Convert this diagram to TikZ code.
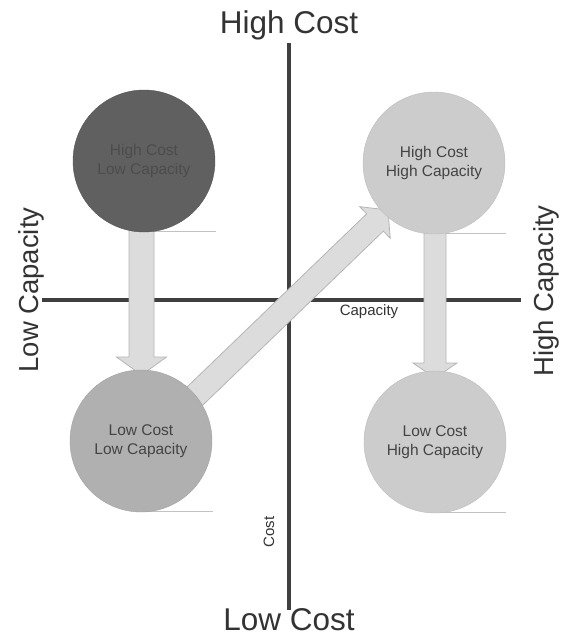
\documentclass[tikz,border=0pt]{standalone}
\usepackage{fontspec}
\setmainfont{Liberation Sans}
\usetikzlibrary{calc}

\definecolor{axisgray}{HTML}{3F3F3F}
\definecolor{labelgray}{HTML}{333333}
\definecolor{darkfill}{HTML}{606060}
\definecolor{darktext}{HTML}{4C4C4C}
\definecolor{midfill}{HTML}{B0B0B0}
\definecolor{lightfill}{HTML}{CCCCCC}
\definecolor{innertext}{HTML}{444444}
\definecolor{arrowfill}{HTML}{DCDCDC}
\definecolor{arrowline}{HTML}{B5B5B5}
\definecolor{baseline}{HTML}{C2C2C2}

\tikzset{
  axis/.style={line width=4pt, draw=axisgray},
  bigtext/.style={text=labelgray, font=\fontsize{31.5}{36}\selectfont, inner sep=0pt},
  sidetext/.style={text=labelgray, font=\fontsize{27.5}{32}\selectfont, inner sep=0pt},
  smalltext/.style={text=labelgray, font=\fontsize{15}{18}\selectfont, inner sep=0pt},
  bubble/.style={circle, minimum size=142pt, inner sep=0pt, align=center,
                 font=\fontsize{15.5}{19}\selectfont},
  blockarrow/.style={fill=arrowfill, draw=arrowline, line width=0.8pt, line join=miter},
  tangent/.style={draw=baseline, line width=1pt},
}

\begin{document}
\begin{tikzpicture}[x=1pt,y=-1pt]
  \useasboundingbox (0,0) rectangle (560,640);

  % axes
  \coordinate (ytop) at (289,43);
  \coordinate (ybot) at (289,610);
  \coordinate (xleft) at (42,300);
  \coordinate (xright) at (521,300);
  \draw[axis] (ytop) -- (ybot);
  \draw[axis] (xleft) -- (xright);

  % axis titles
  \node[bigtext, anchor=base] (hc) at (289,33) {High Cost};
  \node[bigtext, anchor=base] (lc) at (289,630) {Low Cost};
  \node[sidetext, anchor=base, rotate=90] (lcap) at (38,290) {Low Capacity};
  \node[sidetext, anchor=base, rotate=90] (hcap) at (553,291) {High Capacity};
  \node[smalltext] (capname) at (369,312) {Capacity};
  \node[smalltext, rotate=90] (costname) at (269,532) {Cost};

  % bubble positions
  \coordinate (p1) at (144,161);
  \coordinate (p2) at (434,163);
  \coordinate (p3) at (141,441);
  \coordinate (p4) at (435,442);

  % thin base lines under the bubbles
  \draw[tangent] ($(p1)+(0,70)$) -- ++(72,0);
  \draw[tangent] ($(p2)+(0,70.5)$) -- ++(72,0);
  \draw[tangent] ($(p3)+(0,70)$) -- ++(72,0);
  \draw[tangent] ($(p4)+(0,70)$) -- ++(71,0);

  % left block arrow (downwards)
  \coordinate (la) at ($(p1)+(-2.5,40)$);
  \coordinate (lb) at (141.5,357);
  \coordinate (lt) at (141.5,375);
  \draw[blockarrow] ($(la)+(-12.5,0)$) -- ($(lb)+(-12.5,0)$) -- ($(lb)+(-25,0)$)
    -- (lt) -- ($(lb)+(25,0)$) -- ($(lb)+(12.5,0)$) -- ($(la)+(12.5,0)$) -- cycle;

  % right block arrow (downwards)
  \coordinate (ra) at ($(p2)+(1,40)$);
  \coordinate (rb) at (435,363);
  \coordinate (rt) at (435,378);
  \draw[blockarrow] ($(ra)+(-11,0)$) -- ($(rb)+(-11,0)$) -- ($(rb)+(-22,0)$)
    -- (rt) -- ($(rb)+(22,0)$) -- ($(rb)+(11,0)$) -- ($(ra)+(11,0)$) -- cycle;

  % diagonal block arrow
  \coordinate (dr) at (196,395);
  \coordinate (db) at (375,222.5);
  \coordinate (da) at ($(dr)!-60pt!(db)$);
  \coordinate (dt) at ($(db)!-18pt!(da)$);
  \draw[blockarrow] ($(da)!12pt!90:(db)$) -- ($(db)!12pt!-90:(da)$)
    -- ($(db)!22pt!-90:(da)$) -- (dt) -- ($(db)!22pt!90:(da)$)
    -- ($(db)!12pt!90:(da)$) -- ($(da)!12pt!-90:(db)$) -- cycle;

  % bubbles
  \node[bubble, fill=darkfill, draw=darkfill!90!black, text=darktext] (hclc) at (p1)
    {High Cost\\Low Capacity};
  \node[bubble, fill=lightfill, draw=lightfill!92!black, text=innertext] (hchc) at (p2)
    {High Cost\\High Capacity};
  \node[bubble, fill=midfill, draw=midfill!92!black, text=innertext] (lclc) at (p3)
    {Low Cost\\Low Capacity};
  \node[bubble, fill=lightfill, draw=lightfill!92!black, text=innertext] (lchc) at (p4)
    {Low Cost\\High Capacity};
\end{tikzpicture}
\end{document}
